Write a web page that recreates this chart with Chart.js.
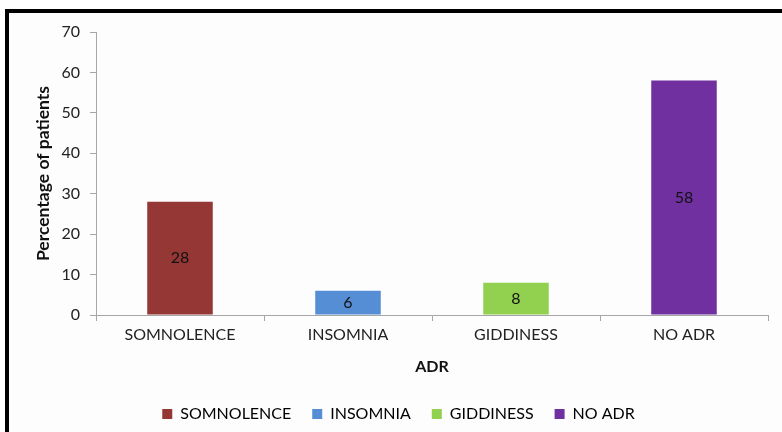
<!DOCTYPE html>
<html>
<head>
<meta charset="utf-8">
<title>ADR</title>
<script src="https://cdn.jsdelivr.net/npm/chart.js@4"></script>
<style>
	html, body { margin: 0; padding: 0; background: #fff; }
	#wrap { position: relative; width: 782px; height: 432px; overflow: hidden; }
	#frame {
		position: absolute; left: 5px; top: 9px; width: 800px; height: 450px;
		border-left: 4px solid #000; border-top: 4px solid #000;
		background: #fdfdfd; box-sizing: border-box;
	}
	#chart { position: absolute; left: 0; top: 0; }
</style>
</head>
<body>
<div id="wrap">
	<div id="frame"></div>
	<canvas id="chart" width="782" height="432"></canvas>
</div>
<script>
/* ADR bar chart */

var categories = ['SOMNOLENCE', 'INSOMNIA', 'GIDDINESS', 'NO ADR'];
var percentages = [28, 6, 8, 58];
var barColors = ['#953735', '#558ED5', '#92D050', '#7030A0'];
var yTicks = [0, 10, 20, 30, 40, 50, 60, 70];

var FONT = 'Lato, "Open Sans", sans-serif';
var AXIS = '#a6a6a6';

// Value labels centred in each bar.
var barValues = {
	id: 'barValues',
	afterDatasetsDraw: function (chart) {
		var ctx = chart.ctx;
		var meta = chart.getDatasetMeta(0);
		ctx.save();
		ctx.font = '16px ' + FONT;
		ctx.fillStyle = '#111';
		ctx.textAlign = 'center';
		ctx.textBaseline = 'middle';
		meta.data.forEach(function (bar, i) {
			ctx.fillText(String(percentages[i]), bar.x, (bar.y + bar.base) / 2);
		});
		ctx.restore();
	}
};

new Chart(document.getElementById('chart'), {
	type: 'bar',
	data: {
		labels: categories,
		datasets: [{
			label: 'ADR',
			data: percentages,
			backgroundColor: barColors,
			categoryPercentage: 1,
			barPercentage: 0.39
		}]
	},
	options: {
		responsive: false,
		animation: false,
		layout: { padding: { left: 29, right: 14, top: 32, bottom: 0 } },
		plugins: {
			tooltip: { enabled: false },
			legend: {
				position: 'bottom',
				labels: {
					font: { family: FONT, size: 16 },
					color: '#222',
					boxWidth: 10,
					boxHeight: 10,
					padding: 21,
					generateLabels: function () {
						return categories.map(function (c, i) {
							return { text: c, fillStyle: barColors[i], strokeStyle: barColors[i], lineWidth: 0, index: i };
						});
					}
				}
			}
		},
		scales: {
			x: {
				grid: { drawOnChartArea: false, color: AXIS, tickLength: 6, offset: true },
				border: { color: AXIS },
				ticks: { font: { family: FONT, size: 16 }, color: '#222', maxRotation: 0, padding: 4 },
				title: { display: true, text: 'ADR', font: { family: FONT, size: 16, weight: 'bold' }, color: '#111', padding: { top: 10, bottom: 9 } },
				afterFit: function (s) { s.height = 70; }
			},
			y: {
				min: 0,
				max: 70,
				afterBuildTicks: function (s) { s.ticks = yTicks.map(function (v) { return { value: v }; }); },
				grid: { drawOnChartArea: false, color: AXIS, tickLength: 6 },
				border: { color: AXIS },
				ticks: { font: { family: FONT, size: 16 }, color: '#222', padding: 10 },
				title: { display: true, text: 'Percentage of patients', font: { family: FONT, size: 17.5, weight: 'bold' }, color: '#111' },
				afterFit: function (s) { s.width = 67; }
			}
		}
	},
	plugins: [barValues]
});
</script>
</body>
</html>
